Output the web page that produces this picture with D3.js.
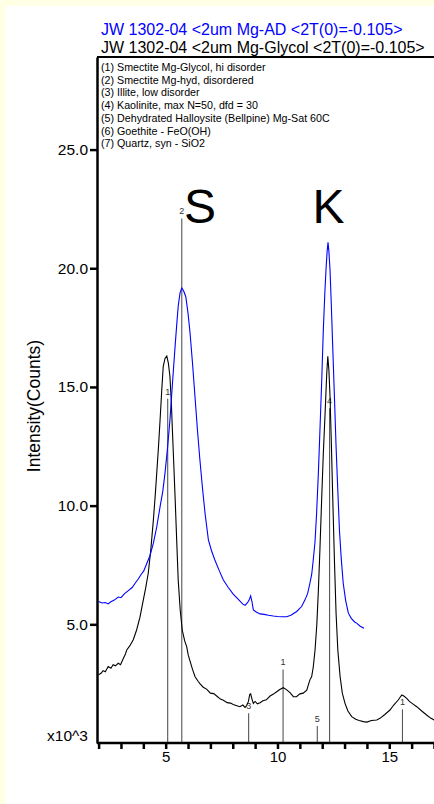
<!DOCTYPE html>
<html>
<head>
<meta charset="utf-8">
<script src="https://cdn.jsdelivr.net/npm/d3@7"></script>
<style>
  html, body { margin: 0; padding: 0; background: #FFFFE6; }
  svg { display: block; }
  text { font-family: "Liberation Sans", Arial, sans-serif; }
</style>
</head>
<body>
<svg id="chart" width="434" height="804"></svg>
<script>
// Scan titles
const titles = [
  { text: "JW 1302-04 <2um Mg-AD <2T(0)=-0.105>", color: "#0000FF" },
  { text: "JW 1302-04 <2um Mg-Glycol <2T(0)=-0.105>", color: "#000000" }
];

// Phase list
const phases = [
  "(1) Smectite Mg-Glycol, hi disorder",
  "(2) Smectite Mg-hyd, disordered",
  "(3) Illite, low disorder",
  "(4) Kaolinite, max N=50, dfd = 30",
  "(5) Dehydrated Halloysite (Bellpine) Mg-Sat 60C",
  "(6) Goethite - FeO(OH)",
  "(7) Quartz, syn - SiO2"
];

// Mg-AD scan: 2-theta (deg) and intensity (x10^3 counts)
const adTheta = [2.0,2.15,2.3,2.43,2.55,2.7,2.88,3.0,3.15,3.33,3.5,3.65,3.78,3.9,4.02,4.15,4.3,4.45,4.6,4.75,4.87,4.97,5.08,5.19,5.3,5.42,5.5,5.56,5.64,5.72,5.8,5.9,6.0,6.09,6.2,6.31,6.42,6.53,6.65,6.76,6.91,7.05,7.2,7.4,7.58,7.8,8.02,8.25,8.45,8.55,8.65,8.72,8.8,8.86,8.92,9.05,9.22,9.4,9.6,9.81,10.0,10.2,10.41,10.6,10.86,11.08,11.23,11.35,11.45,11.53,11.6,11.68,11.75,11.83,11.9,11.98,12.05,12.12,12.17,12.22,12.26,12.3,12.35,12.41,12.47,12.55,12.62,12.7,12.77,12.85,12.94,13.05,13.17,13.3,13.45,13.54,13.7,13.87];
const adCounts = [5.96,5.9,5.92,5.86,5.95,6.02,6.15,6.12,6.28,6.42,6.55,6.75,6.92,7.1,7.25,7.55,7.9,8.42,9.1,9.96,10.6,11.37,12.4,13.6,15.1,16.7,17.7,18.4,18.95,19.17,19.05,18.8,18.1,17.27,16.0,14.6,13.2,11.93,10.7,9.68,8.56,8.1,7.71,7.25,6.87,6.55,6.27,6.05,5.85,5.8,5.9,6.0,6.2,5.95,5.61,5.52,5.44,5.42,5.38,5.35,5.33,5.32,5.32,5.38,5.54,5.75,6.03,6.3,6.73,7.1,7.71,8.5,9.68,11.4,13.2,15.3,17.4,19.0,19.94,20.7,21.09,20.7,19.94,18.4,16.7,14.5,12.49,10.6,8.98,7.8,6.73,6.0,5.47,5.25,5.1,5.05,4.92,4.83];

// Mg-Glycol scan
const glyTheta = [2.0,2.12,2.2,2.3,2.43,2.55,2.65,2.75,2.88,2.98,3.1,3.2,3.26,3.4,3.55,3.7,3.85,4.0,4.1,4.22,4.33,4.45,4.53,4.6,4.68,4.75,4.82,4.89,4.97,5.05,5.12,5.19,5.25,5.3,5.36,5.42,5.49,5.56,5.65,5.74,5.85,5.94,6.01,6.09,6.2,6.31,6.45,6.53,6.68,6.83,7.0,7.15,7.28,7.45,7.58,7.75,7.9,8.02,8.15,8.32,8.45,8.55,8.62,8.7,8.76,8.8,8.86,8.92,9.0,9.1,9.22,9.35,9.5,9.67,9.8,9.95,10.1,10.26,10.4,10.56,10.71,10.85,11.0,11.15,11.31,11.45,11.53,11.6,11.68,11.76,11.83,11.9,11.98,12.05,12.13,12.2,12.25,12.3,12.35,12.41,12.47,12.55,12.62,12.7,12.8,12.9,13.02,13.15,13.32,13.5,13.65,13.84,14.0,14.2,14.44,14.6,14.8,15.03,15.2,15.4,15.5,15.56,15.65,15.78,15.9,16.05,16.23,16.45,16.67,16.85,17.0,17.2,17.4];
const glyCounts = [2.87,2.95,3.05,3.0,3.22,3.15,3.3,3.25,3.36,3.3,3.55,3.75,3.92,4.1,4.35,4.76,5.3,6.03,6.5,7.15,8.1,9.4,10.4,11.37,12.5,13.62,14.8,15.86,16.2,16.3,16.0,15.44,14.4,13.2,11.8,10.38,8.6,6.87,5.6,4.76,4.3,4.06,3.7,3.45,3.1,2.8,2.6,2.5,2.35,2.27,2.1,2.08,1.98,1.85,1.8,1.7,1.68,1.62,1.58,1.53,1.6,1.5,1.57,1.75,2.05,2.07,1.85,1.67,1.75,1.65,1.7,1.78,1.82,1.98,2.05,2.15,2.25,2.33,2.25,2.12,1.95,1.95,2.07,2.1,2.23,2.66,2.8,3.2,3.92,5.0,6.45,8.2,10.38,12.2,13.9,15.5,16.29,15.7,14.6,12.6,10.38,7.6,5.47,3.9,2.8,2.1,1.67,1.35,1.11,1.0,0.95,0.9,0.88,0.95,0.97,1.05,1.2,1.39,1.6,1.81,1.95,2.02,1.98,1.88,1.75,1.65,1.53,1.35,1.18,1.05,0.97,0.9,0.85];

// Reference pattern lines: position, height, phase number
const stickTheta = [5.09, 5.72, 8.71, 10.25, 11.78, 12.33, 15.59];
const stickHeight = [14.5, 22.1, 1.25, 3.1, 0.72, 14.1, 1.42];
const stickPhase = ["1", "2", "3", "1", "5", "4", "1"];

// Peak markers (smectite, kaolinite)
const peakMarks = ["S", "K"];
const peakTheta = [5.82, 11.57];

const yTicks = [5, 10, 15, 20, 25];
const xMajor = [5, 10, 15];
const xMinor = d3.range(2, 18);

const svg = d3.select("#chart");
const W = 434, H = 804;

// white page area
svg.append("rect").attr("x", 6).attr("y", 6).attr("width", W - 6).attr("height", H - 6).attr("fill", "#FFFFFF");

const plotL = 97, plotT = 57, plotB = 743, plotR = 445;
const x = d3.scaleLinear().domain([2, 17.5]).range([98.6, 98.6 + 15.5 * 22.36]);
const y = d3.scaleLinear().domain([0, 28.9]).range([plotB, plotT]);

svg.append("defs").append("clipPath").attr("id", "plot")
  .append("rect").attr("x", plotL).attr("y", plotT).attr("width", plotR - plotL).attr("height", plotB - plotT);

const plot = svg.append("g").attr("clip-path", "url(#plot)");

// reference sticks
const sticks = stickTheta.map((t, i) => ({ t, h: stickHeight[i], p: stickPhase[i] }));
plot.selectAll("line.stick").data(sticks).join("line")
  .attr("class", "stick")
  .attr("x1", d => x(d.t)).attr("x2", d => x(d.t))
  .attr("y1", y(0)).attr("y2", d => y(d.h))
  .attr("stroke", "#555").attr("stroke-width", 1.1);
plot.selectAll("text.stick").data(sticks).join("text")
  .attr("class", "stick")
  .attr("x", d => x(d.t)).attr("y", d => y(d.h) - 4)
  .attr("text-anchor", "middle").attr("font-size", 9).attr("fill", "#333")
  .text(d => d.p);

const line = d3.line().x(d => x(d[0])).y(d => y(d[1]));
plot.append("path").datum(glyTheta.map((t, i) => [t, glyCounts[i]]))
  .attr("d", line).attr("fill", "none").attr("stroke", "#000").attr("stroke-width", 1.1);
plot.append("path").datum(adTheta.map((t, i) => [t, adCounts[i]]))
  .attr("d", line).attr("fill", "none").attr("stroke", "#0000FF").attr("stroke-width", 1.1);

// peak letters
svg.selectAll("text.peak").data(peakMarks).join("text")
  .attr("class", "peak")
  .attr("x", (d, i) => x(peakTheta[i])).attr("y", 223)
  .attr("font-size", 48).attr("fill", "#000")
  .text(d => d);

// axes
const yAxis = d3.axisLeft(y).tickValues(yTicks).tickFormat(d3.format(".1f")).tickSize(7).tickSizeOuter(0);
const gy = svg.append("g").attr("transform", `translate(${plotL},0)`).call(yAxis);
gy.select(".domain").attr("stroke-width", 2.5);
gy.selectAll(".tick line").attr("stroke-width", 2.5);
gy.selectAll(".tick text").attr("font-size", 15.5).attr("fill", "#000").attr("x", -9).attr("font-family", "Liberation Sans, Arial, sans-serif");

const xAxis = d3.axisBottom(x).tickValues(xMinor).tickFormat(d => xMajor.includes(d) ? d : "").tickSize(6).tickSizeOuter(0);
const gx = svg.append("g").attr("transform", `translate(0,${plotB})`).call(xAxis);
gx.select(".domain").attr("stroke-width", 2.5).attr("d", `M${plotL},0H${plotR}`);
gx.selectAll(".tick line").attr("stroke-width", 2.5);
gx.selectAll(".tick text").attr("font-size", 15).attr("fill", "#000").attr("y", 8).attr("font-family", "Liberation Sans, Arial, sans-serif");

// top border
svg.append("line").attr("x1", plotL).attr("x2", plotR).attr("y1", plotT).attr("y2", plotT)
  .attr("stroke", "#000").attr("stroke-width", 2.2);

svg.append("text").attr("x", 88).attr("y", 741).attr("text-anchor", "end")
  .attr("font-size", 15.5).text("x10^3");

svg.append("text").attr("transform", "translate(40,406) rotate(-90)")
  .attr("text-anchor", "middle").attr("font-size", 17.5).text("Intensity(Counts)");

// titles
svg.selectAll("text.title").data(titles).join("text")
  .attr("class", "title")
  .attr("x", 101).attr("y", (d, i) => 35 + i * 18)
  .attr("font-size", 16).attr("fill", d => d.color)
  .text(d => d.text);

// phase list
svg.selectAll("text.phase").data(phases).join("text")
  .attr("class", "phase")
  .attr("x", 101).attr("y", (d, i) => 71 + i * 12.72)
  .attr("font-size", 10.7).attr("fill", "#000")
  .text(d => d);
</script>
</body>
</html>
